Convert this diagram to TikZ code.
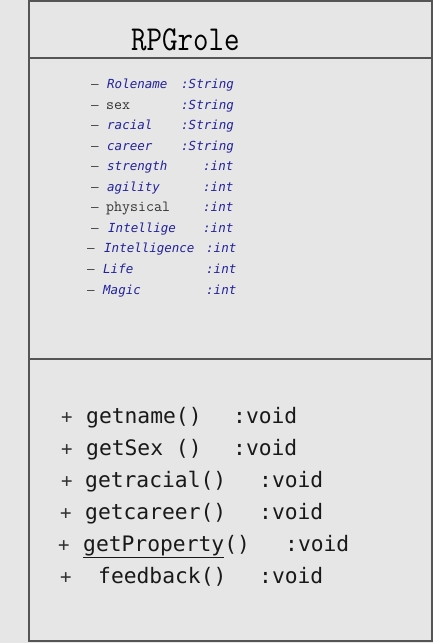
\documentclass[tikz,border=0pt]{standalone}
\usepackage{fontspec}
\newfontfamily\methfont{DejaVu Sans Mono}
\definecolor{bg}{HTML}{E6E6E6}
\definecolor{frame}{HTML}{555555}
\definecolor{umlblue}{HTML}{22229C}
\definecolor{dark}{HTML}{333333}
\tikzset{
  attrI/.style={anchor=base west, inner sep=0pt, text=umlblue, font=\methfont\itshape\fontsize{12.5}{12.5}\selectfont},
  attrP/.style={anchor=base west, inner sep=0pt, text=dark, font=\ttfamily\fontsize{15.5}{15.5}\selectfont},
  dashsty/.style={anchor=base west, inner sep=0pt, text=dark, font=\methfont\fontsize{12.5}{12.5}\selectfont},
  meth/.style={anchor=base west, inner sep=0pt, text=black!90, font=\methfont\fontsize{21.3}{21.3}\selectfont},
  plussty/.style={anchor=base west, inner sep=0pt, text=dark, font=\methfont\fontsize{19}{19}\selectfont},
  framesty/.style={draw=frame, line width=1.2pt},
}
\newcommand\arow[8]{%
  \node[dashsty] (#1d) at (#3,#2) {–};
  \node[#8] (#1n) at (#4,#2) {#5};
  \node[attrI] (#1t) at (#6,#2) {#7};}
\newcommand\mrow[6]{%
  \node[plussty] (#1p) at (#3,#2) {+};
  \node[meth] (#1n) at (#4,#2) {#5};
  \node[meth] (#1t) at (#6,#2) {:void};}
\begin{document}
\begin{tikzpicture}[x=1pt,y=-1pt]
\useasboundingbox (0,0) rectangle (433,643);
\fill[bg] (0,0) rectangle (433,643);
\draw[framesty] (29,1) rectangle (432,641);
\draw[framesty] (29,58) -- (432,58);
\draw[framesty] (29,359) -- (432,359);
\node[anchor=base west, inner sep=0pt, font=\ttfamily\fontsize{35}{35}\selectfont] (title) at (131,50) {\scalebox{0.86}[1]{RPGrole}};
\arow{a1}{88}{91}{107}{Rolename}{181}{:String}{attrI}
\arow{a2}{109}{91}{106}{sex}{181}{:String}{attrP}
\arow{a3}{129}{91}{107}{racial}{181}{:String}{attrI}
\arow{a4}{150}{91}{107}{career}{181}{:String}{attrI}
\arow{a5}{170}{91}{107}{strength}{203}{:int}{attrI}
\arow{a6}{191}{91}{107}{agility}{203}{:int}{attrI}
\arow{a7}{211}{91}{106}{physical}{203}{:int}{attrP}
\arow{a8}{232}{91}{108}{Intellige}{203}{:int}{attrI}
\arow{a9}{252}{87}{104}{Intelligence}{206}{:int}{attrI}
\arow{a10}{273}{87}{103}{Life}{206}{:int}{attrI}
\arow{a11}{294}{87}{103}{Magic}{206}{:int}{attrI}
\mrow{m1}{423}{61}{86}{getname()}{233}
\mrow{m2}{455}{61}{86}{getSex ()}{233}
\mrow{m3}{487}{61}{85}{getracial()}{259}
\mrow{m4}{519}{60}{85}{getcareer()}{259}
\mrow{m5}{551}{58}{83}{\underline{getProperty}()}{285}
\mrow{m6}{583}{60}{98}{feedback()}{259}
\end{tikzpicture}
\end{document}
